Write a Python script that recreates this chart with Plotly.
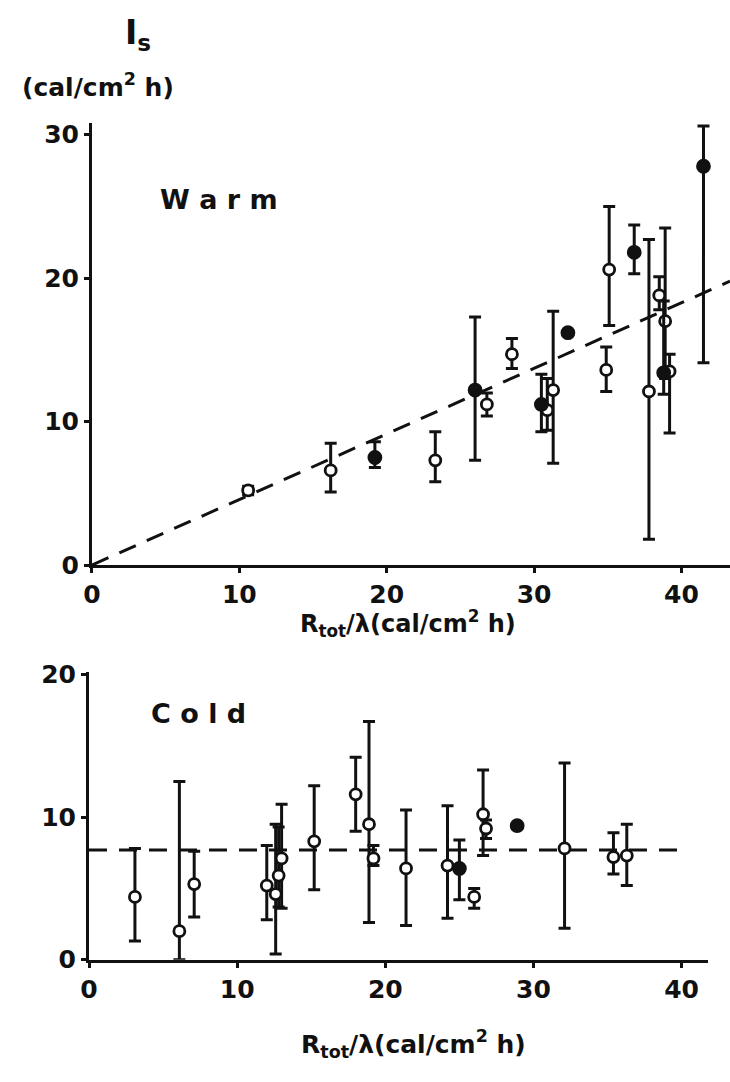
import plotly.graph_objects as go

# ---------------- Warm data ----------------
warm_x      = [10.6, 16.2, 19.2, 23.3, 26.0, 26.8, 28.5, 30.5, 30.9, 31.3, 32.3, 34.9, 35.1, 36.8, 37.8, 38.5, 38.9, 38.8, 39.2, 41.5]
warm_y      = [5.2, 6.6, 7.5, 7.3, 12.2, 11.2, 14.7, 11.2, 10.8, 12.2, 16.2, 13.6, 20.6, 21.8, 12.1, 18.8, 17.0, 13.4, 13.5, 27.8]
warm_hi     = [5.5, 8.5, 8.6, 9.3, 17.3, 12.0, 15.8, 13.3, 13.0, 17.7, 16.2, 15.2, 25.0, 23.7, 22.7, 20.1, 23.5, 18.4, 14.7, 30.6]
warm_lo     = [4.9, 5.1, 6.8, 5.8, 7.3, 10.4, 13.7, 9.3, 9.4, 7.1, 16.2, 12.1, 16.7, 20.3, 1.8, 17.8, 13.0, 11.9, 9.2, 14.1]
warm_filled = [0, 0, 1, 0, 1, 0, 0, 1, 0, 0, 1, 0, 0, 1, 0, 0, 0, 1, 0, 1]
warm_slope  = 0.457
warm_line_x = [0, 43.3]

# ---------------- Cold data ----------------
cold_x      = [3.1, 6.1, 7.1, 12.0, 12.6, 12.8, 13.0, 15.2, 18.0, 18.9, 19.2, 21.4, 24.2, 25.0, 26.0, 26.6, 26.8, 28.9, 32.1, 35.4, 36.3]
cold_y      = [4.4, 2.0, 5.3, 5.2, 4.6, 5.9, 7.1, 8.3, 11.6, 9.5, 7.1, 6.4, 6.6, 6.4, 4.4, 10.2, 9.2, 9.4, 7.8, 7.2, 7.3]
cold_hi     = [7.8, 12.5, 7.6, 8.0, 9.5, 9.3, 10.9, 12.2, 14.2, 16.7, 8.0, 10.5, 10.8, 8.4, 5.0, 13.3, 9.8, 9.4, 13.8, 8.9, 9.5]
cold_lo     = [1.3, 0.0, 3.0, 2.8, 0.4, 3.7, 3.6, 4.9, 9.0, 2.6, 6.6, 2.4, 2.9, 4.2, 3.6, 7.3, 8.5, 9.4, 2.2, 6.0, 5.2]
cold_filled = [0, 0, 0, 0, 0, 0, 0, 0, 0, 0, 0, 0, 0, 1, 0, 0, 0, 1, 0, 0, 0]
cold_level  = 7.7
cold_line_x = [0, 40.4]

xticks = [0, 10, 20, 30, 40]
warm_yticks = [0, 10, 20, 30]
cold_yticks = [0, 10, 20]

FONT = "DejaVu Sans"
BLACK = "#111111"

fig = go.Figure()


def add_points(xs, ys, his, los, fills, xa, ya):
    for filled in (0, 1):
        idx = [i for i, f in enumerate(fills) if f == filled]
        px = [xs[i] for i in idx]
        py = [ys[i] for i in idx]
        up = [his[i] - ys[i] for i in idx]
        dn = [ys[i] - los[i] for i in idx]
        fig.add_trace(go.Scatter(
            x=px, y=py, mode="markers", xaxis=xa, yaxis=ya, showlegend=False,
            marker=dict(symbol="circle", size=12 if filled else 11,
                        color=BLACK if filled else "white",
                        line=dict(color=BLACK, width=2.8)),
            error_y=dict(type="data", symmetric=False, array=up, arrayminus=dn,
                         color=BLACK, thickness=3, width=6),
        ))


# dashed lines first (behind points)
fig.add_trace(go.Scatter(x=warm_line_x, y=[warm_slope * v for v in warm_line_x],
                         mode="lines", xaxis="x", yaxis="y", showlegend=False,
                         line=dict(color=BLACK, width=3, dash="18px,12px")))
fig.add_trace(go.Scatter(x=cold_line_x, y=[cold_level, cold_level],
                         mode="lines", xaxis="x2", yaxis="y2", showlegend=False,
                         line=dict(color=BLACK, width=3, dash="18px,12px")))

add_points(warm_x, warm_y, warm_hi, warm_lo, warm_filled, "x", "y")
add_points(cold_x, cold_y, cold_hi, cold_lo, cold_filled, "x2", "y2")

axis_common = dict(showline=True, linecolor=BLACK, linewidth=3, showgrid=False,
                   zeroline=False, ticks="outside", ticklen=5, tickwidth=2.5,
                   tickcolor=BLACK,
                   tickfont=dict(family=FONT, size=25, color=BLACK, weight="bold"))

fig.update_layout(
    width=730, height=1082,
    margin=dict(l=0, r=0, t=0, b=0),
    paper_bgcolor="white", plot_bgcolor="white",
    xaxis=dict(domain=[84 / 730, 1.0], range=[0, 43.3], tickvals=xticks,
               anchor="y", **axis_common),
    yaxis=dict(domain=[(1082 - 567.7) / 1082, (1082 - 115) / 1082], range=[0, 30.8],
               tickvals=warm_yticks, anchor="x", **axis_common),
    xaxis2=dict(domain=[81 / 730, 708 / 730], range=[0, 41.8], tickvals=xticks,
                anchor="y2", **axis_common),
    yaxis2=dict(domain=[(1082 - 972) / 1082, (1082 - 677) / 1082], range=[0, 20.2],
                tickvals=cold_yticks, anchor="x2", **axis_common),
)

annots = [
    dict(text="W a r m", x=8.6, y=25.5, xref="x", yref="y", size=27),
    dict(text="C o l d", x=7.4, y=17.3, xref="x2", yref="y2", size=27),
    dict(text="I<sub>s</sub>", x=131 / 730, y=1 - 24 / 1082, xref="paper", yref="paper", size=33),
    dict(text="(cal/cm<sup>2</sup> h)", x=90 / 730, y=1 - 76 / 1082, xref="paper", yref="paper", size=25),
    dict(text="R<sub>tot</sub>/λ(cal/cm<sup>2</sup> h)", x=404 / 730, y=1 - 628 / 1082,
         xref="paper", yref="paper", size=24),
    dict(text="R<sub>tot</sub>/λ(cal/cm<sup>2</sup> h)", x=410 / 730, y=1 - 1058 / 1082,
         xref="paper", yref="paper", size=25),
]
for a in annots:
    fig.add_annotation(text=a["text"], x=a["x"], y=a["y"], xref=a["xref"], yref=a["yref"],
                       showarrow=False, xanchor="center", yanchor="middle",
                       font=dict(family=FONT, size=a["size"], color=BLACK, weight="bold"))

fig.write_html("out.html")
